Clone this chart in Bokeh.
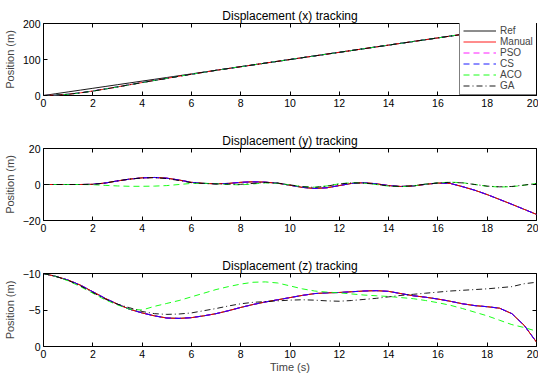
from bokeh.plotting import figure
from bokeh.layouts import column
from bokeh.models import Range1d, FixedTicker, LinearAxis, Legend, LegendItem
from bokeh.embed import file_html
from bokeh.resources import INLINE

# ---------------- data ----------------
t = [0.0, 0.5, 1.0, 1.5, 2.0, 2.5, 3.0, 3.5, 4.0, 4.5, 5.0, 5.5, 6.0, 6.5, 7.0, 7.5,
     8.0, 8.5, 9.0, 9.5, 10.0, 10.5, 11.0, 11.5, 12.0, 12.5, 13.0, 13.5, 14.0, 14.5,
     15.0, 15.5, 16.0, 16.5, 17.0, 17.5, 18.0, 18.5, 19.0, 19.5, 20.0]

x_ref = [0, 5, 10, 15, 20, 25, 30, 35, 40, 45, 50, 55, 60, 65, 70, 75, 80, 85, 90, 95,
         100, 105, 110, 115, 120, 125, 130, 135, 140, 145, 150, 155, 160, 165, 170, 175,
         180, 185, 190, 195, 200]
x_tracked = [0, 1, 3.5, 7.5, 12.5, 18, 24, 30, 36, 42, 47.5, 53.5, 59, 64.5, 70, 75,
             80, 85, 90, 95, 100, 105, 110, 115, 120, 125, 130, 135, 140, 145, 150, 155,
             160, 165, 170, 175, 180, 185, 190, 195, 200]
x_aco = [0, 1, 3.4, 7.3, 12.2, 17.8, 23.8, 29.8, 35.8, 41.8, 47.5, 53.5, 59, 64.5, 70, 75,
         80, 85, 90, 95, 100, 105, 110, 115, 120, 125, 130, 135, 140, 145, 150, 155,
         160, 165, 170, 175, 180, 185, 190, 195, 200]

y_ref = [0, 0, 0, 0, 0.1, 0.8, 2.0, 3.0, 3.7, 3.9, 3.5, 2.5, 1.2, 0.6, 0.4, 0.6,
         1.2, 1.5, 1.3, 0.7, -0.4, -1.6, -2.2, -1.8, -0.6, 0.6, 1.0, 0.4, -0.6, -1.1,
         -0.8, 0.1, 0.8, 0.6, -1.2, -3.2, -5.6, -8.3, -11.0, -13.8, -16.6]
y_aco = [0, 0, 0, 0, -0.1, -0.5, -0.8, -1.0, -1.0, -0.9, -0.6, 0.0, 0.6, 0.7, 0.4, 0.0,
         -0.2, 0.3, 0.9, 0.7, -0.3, -1.2, -1.5, -0.8, 0.4, 1.0, 0.8, 0.0, -0.9, -1.2,
         -0.8, 0.2, 0.9, 1.3, 1.0, 0.0, -1.0, -1.4, -1.2, -0.4, 0.6]
y_ga = [0, 0, 0, 0, 0.1, 0.8, 2.0, 3.0, 3.6, 3.8, 3.3, 2.2, 1.0, 0.6, 0.3, 0.2,
        0.1, 0.6, 1.1, 0.8, -0.2, -1.2, -1.6, -0.9, 0.3, 0.9, 0.8, 0.1, -0.8, -1.1,
        -0.7, 0.2, 0.8, 1.2, 0.9, 0.0, -0.9, -1.3, -1.1, -0.3, 0.5]

z_ref = [-10, -9.6, -9.1, -8.4, -7.5, -6.6, -5.8, -5.1, -4.6, -4.2, -3.9, -3.85, -3.95,
         -4.2, -4.5, -4.9, -5.35, -5.75, -6.1, -6.4, -6.7, -7.0, -7.25, -7.35, -7.4, -7.5,
         -7.6, -7.65, -7.55, -7.25, -6.95, -6.75, -6.5, -6.2, -5.85, -5.6, -5.45, -5.25,
         -4.5, -2.9, -0.6]
z_aco = [-10, -9.6, -9.0, -8.2, -7.3, -6.4, -5.7, -5.1, -5.0, -5.5, -5.9, -6.3, -6.8,
         -7.3, -7.8, -8.2, -8.55, -8.8, -8.85, -8.7, -8.3, -7.9, -7.6, -7.45, -7.35, -7.2,
         -7.05, -6.95, -6.85, -6.7, -6.55, -6.3, -6.0, -5.65, -5.2, -4.7, -4.2, -3.6,
         -3.0, -2.6, -2.1]
z_ga = [-10, -9.6, -9.05, -8.3, -7.4, -6.5, -5.8, -5.3, -4.8, -4.5, -4.4, -4.45, -4.6,
        -4.9, -5.2, -5.55, -5.85, -6.05, -6.15, -6.25, -6.35, -6.4, -6.35, -6.25, -6.2,
        -6.3, -6.45, -6.6, -6.8, -7.0, -7.15, -7.3, -7.45, -7.6, -7.7, -7.8, -7.9, -8.05,
        -8.2, -8.6, -8.8]

series_names = ["Ref", "Manual", "PSO", "CS", "ACO", "GA"]
x_ticks = [0, 2, 4, 6, 8, 10, 12, 14, 16, 18, 20]

FONT = "Liberation Sans"
styles = {
    "Ref": dict(color="#000000", dash="solid"),
    "Manual": dict(color="#ff0000", dash="solid"),
    "PSO": dict(color="#ff00ff", dash="6 4"),
    "CS": dict(color="#0000ff", dash="6 4"),
    "ACO": dict(color="#00ff00", dash="6 4"),
    "GA": dict(color="#000000", dash="6 3 1 3"),
}


def style_axis(ax, ticks, show_labels=True):
    ax.ticker = FixedTicker(ticks=ticks)
    ax.major_tick_in = 4
    ax.major_tick_out = 0
    ax.minor_tick_line_color = None
    ax.axis_line_color = None
    ax.major_tick_line_color = "#000000"
    ax.major_label_text_font = FONT
    if show_labels:
        ax.major_label_text_color = "#000000"
        ax.major_label_text_font_size = "10.5px"
        ax.major_label_standoff = 3
    else:
        ax.major_label_text_color = None
        ax.major_label_text_font_size = "0px"
        ax.major_label_standoff = 0


def make_fig(title, y_range, yticks, top, bottom, fh, xlabel=None):
    p = figure(frame_width=493, frame_height=fh, x_range=Range1d(0, 20), y_range=y_range,
               output_backend="svg", toolbar_location=None,
               min_border_left=39, min_border_right=2,
               min_border_top=top, min_border_bottom=bottom)
    p.title.text = title
    p.title.align = "center"
    p.title.text_font = FONT
    p.title.text_font_size = "12px"
    p.title.text_font_style = "normal"
    p.title.text_color = "#000000"
    p.title.standoff = 1
    p.xgrid.visible = False
    p.ygrid.visible = False
    p.outline_line_color = "#000000"
    p.outline_line_width = 1
    style_axis(p.xaxis[0], x_ticks)
    style_axis(p.yaxis[0], yticks)
    p.yaxis.axis_label = "Position (m)"
    p.yaxis.axis_label_text_font = FONT
    p.yaxis.axis_label_text_font_size = "11px"
    p.yaxis.axis_label_text_font_style = "normal"
    p.yaxis.axis_label_standoff = 4
    if xlabel:
        p.xaxis.axis_label = xlabel
        p.xaxis.axis_label_text_font = FONT
        p.xaxis.axis_label_text_font_size = "11px"
        p.xaxis.axis_label_text_font_style = "normal"
        p.xaxis.axis_label_standoff = 0
    top_ax = LinearAxis()
    style_axis(top_ax, x_ticks, show_labels=False)
    p.add_layout(top_ax, "above")
    right_ax = LinearAxis()
    style_axis(right_ax, yticks, show_labels=False)
    p.add_layout(right_ax, "right")
    return p


def draw(p, data):
    rends = {}
    for name in series_names:
        st = styles[name]
        rends[name] = p.line(t, data[name], line_color=st["color"], line_dash=st["dash"],
                             line_width=0.9)
    return rends


p1 = make_fig("Displacement (x) tracking", Range1d(0, 200), [0, 100, 200], 23, 33, 72)
r1 = draw(p1, {"Ref": x_ref, "Manual": x_tracked, "PSO": x_tracked, "CS": x_tracked,
               "ACO": x_aco, "GA": x_aco})
legend = Legend(items=[LegendItem(label=n, renderers=[r1[n]]) for n in series_names],
                location=(416, 0), orientation="vertical",
                label_text_font=FONT, label_text_font_size="10px",
                label_height=11, glyph_height=11, glyph_width=33,
                label_standoff=4, label_width=36, padding=3, spacing=0, margin=0,
                border_line_color="#000000", border_line_width=0.8,
                background_fill_color="#ffffff", background_fill_alpha=1.0)
p1.add_layout(legend, "center")

p2 = make_fig("Displacement (y) tracking", Range1d(-20, 20), [-20, 0, 20], 20, 33, 72)
draw(p2, {"Ref": y_ref, "Manual": y_ref, "PSO": y_ref, "CS": y_ref,
          "ACO": y_aco, "GA": y_ga})

p3 = make_fig("Displacement (z) tracking", Range1d(0, -10), [-10, -5, 0], 20, 26, 73,
              xlabel="Time (s)")
draw(p3, {"Ref": z_ref, "Manual": z_ref, "PSO": z_ref, "CS": z_ref,
          "ACO": z_aco, "GA": z_ga})

layout = column(p1, p2, p3, spacing=0)
open("out.html", "w").write(file_html(layout, INLINE))
